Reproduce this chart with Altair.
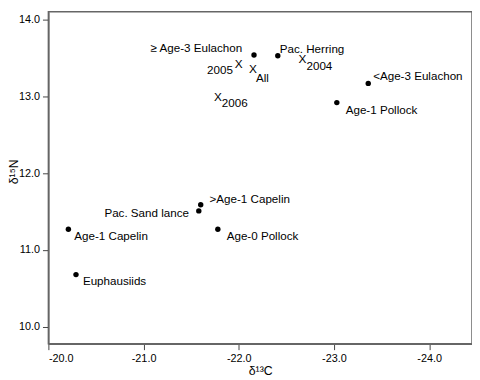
import altair as alt
import pandas as pd

# Prey groups (filled circles)
prey_names = ["≥ Age-3 Eulachon", "Pac. Herring", "<Age-3 Eulachon", "Age-1 Pollock",
              ">Age-1 Capelin", "Pac. Sand lance", "Age-1 Capelin", "Age-0 Pollock",
              "Euphausiids"]
prey_d13c = [-22.16, -22.41, -23.36, -23.03, -21.60, -21.58, -20.21, -21.78, -20.29]
prey_d15n = [13.54, 13.53, 13.17, 12.92, 11.59, 11.51, 11.27, 11.27, 10.68]

# Predator years ("X" markers)
year_names = ["2005", "All", "2004", "2006"]
year_d13c = [-22.00, -22.15, -22.67, -21.78]
year_d15n = [13.42, 13.36, 13.49, 12.99]

x_ticks = [-20, -21, -22, -23, -24]
y_ticks = [10, 11, 12, 13, 14]

# label placement styles (align, dx, dy)
prey_label_style = [("right", -12, -7), ("left", 2, -7), ("left", 5, -7), ("left", 9, 8),
                    ("left", 9, -6), ("right", -10, 2), ("left", 6, 7), ("left", 9, 7),
                    ("left", 7, 7)]
year_label_style = [("right", -6, 6), ("left", 3, 9), ("left", 4, 7), ("left", 4, 6)]

prey = pd.DataFrame({"name": prey_names, "c": prey_d13c, "n": prey_d15n})
years = pd.DataFrame({"name": year_names, "c": year_d13c, "n": year_d15n, "mk": ["X"] * 4})

FONT = "Liberation Sans"
xs = alt.Scale(domain=[-20, -24.45], nice=False, zero=False)
ys = alt.Scale(domain=[9.78, 14.103], nice=False, zero=False)

X = alt.X("c:Q", scale=xs, axis=alt.Axis(values=x_ticks, title="δ¹³C",
                                         labelExpr="'-' + format(abs(datum.value), '.1f')",
                                         titleY=27, titleBaseline="middle"))
Y = alt.Y("n:Q", scale=ys, axis=alt.Axis(values=y_ticks, format=".1f", title="δ¹⁵N",
                                         titleX=-35, titleY=162, titleBaseline="middle",
                                         titleAlign="center"))

base_prey = alt.Chart(prey)
base_year = alt.Chart(years)

layers = [base_prey.mark_circle(size=30, color="black", opacity=1).encode(x=X, y=Y)]
layers.append(base_year.mark_text(fontSize=12, font=FONT, color="black").encode(x=X, y=Y, text="mk:N"))

for name, (al, dx, dy) in zip(prey_names, prey_label_style):
    layers.append(base_prey.transform_filter(alt.datum.name == name)
                  .mark_text(align=al, dx=dx, dy=dy, fontSize=11.8, font=FONT, color="black", baseline="middle")
                  .encode(x=X, y=Y, text="name:N"))
for name, (al, dx, dy) in zip(year_names, year_label_style):
    layers.append(base_year.transform_filter(alt.datum.name == name)
                  .mark_text(align=al, dx=dx, dy=dy, fontSize=11.8, font=FONT, color="black", baseline="middle")
                  .encode(x=X, y=Y, text="name:N"))

chart = alt.layer(*layers).properties(
    width=430, height=337,
    autosize=alt.AutoSizeParams(type="none"),
    padding={"left": 41, "top": 1, "right": 0, "bottom": 34},
).configure_view(
    stroke="#666", strokeWidth=1.5
).configure_axis(
    grid=False, domainColor="#666", domainWidth=1.5, tickColor="#444", tickSize=6,
    labelFont=FONT, labelFontSize=11, labelColor="black", labelPadding=3,
    titleFont=FONT, titleFontSize=12.5, titleFontWeight="normal", titleColor="black"
)

chart.save("out.html", embed_options={"renderer": "svg", "actions": False})
